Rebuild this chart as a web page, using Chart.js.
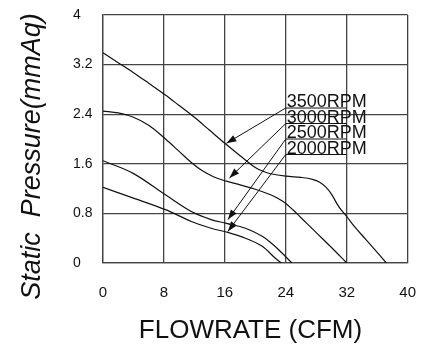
<!DOCTYPE html>
<html>
<head>
<meta charset="utf-8">
<script src="https://cdn.jsdelivr.net/npm/chart.js@4/dist/chart.umd.min.js"></script>
<style>
  html, body { margin: 0; padding: 0; background: #fff; }
  #wrap { width: 437px; height: 354px; position: relative; }
</style>
</head>
<body>
<div id="wrap"><canvas id="c" width="437" height="354"></canvas></div>
<script>
// ---- data ----
const flow3500 = [0, 2, 4, 6, 8.2, 10, 12, 14, 16.2, 18, 20, 21, 22, 24, 26, 27.5, 28.5, 29.3, 30, 31, 32, 33, 34.5, 36, 37.2];
const pres3500 = [3.39, 3.23, 3.07, 2.90, 2.71, 2.54, 2.35, 2.14, 1.91, 1.73, 1.54, 1.48, 1.44, 1.40, 1.38, 1.35, 1.30, 1.22, 1.11, 0.90, 0.75, 0.59, 0.38, 0.17, 0];

const flow3000 = [0, 2, 4, 6, 8.2, 10, 11.6, 13, 14.5, 16.2, 18, 20, 22, 23, 24, 25, 26, 28, 30, 32];
const pres3000 = [2.45, 2.42, 2.35, 2.22, 2.00, 1.80, 1.62, 1.49, 1.39, 1.32, 1.26, 1.19, 1.10, 1.04, 0.96, 0.85, 0.73, 0.49, 0.25, 0];

const flow2500 = [0, 3.9, 8.2, 11.6, 14.2, 16.2, 18.7, 20.9, 22, 23.1, 24.8];
const pres2500 = [1.65, 1.45, 1.10, 0.83, 0.70, 0.64, 0.56, 0.43, 0.33, 0.21, 0];

const flow2000 = [0, 3.9, 8.2, 11.6, 14.2, 16.2, 18.7, 20.9, 22.6, 23.4];
const pres2000 = [1.22, 1.05, 0.86, 0.67, 0.56, 0.50, 0.40, 0.27, 0.08, 0];

const seriesNames = ['3500RPM', '3000RPM', '2500RPM', '2000RPM'];
// label leader: underline height (mmAq) and arrow tip (CFM, mmAq)
const labelLineY = [2.5, 2.25, 2.0, 1.75];
const labelLineX = [24, 32];
const arrowTipX = [16.2, 16.6, 16.4, 16.4];
const arrowTipY = [1.93, 1.37, 0.70, 0.51];

const xTickValues = [0, 8, 16, 24, 32, 40];
const xTickLabels = ['0', '8', '16', '24', '32', '40'];
const yTickValues = [0, 0.8, 1.6, 2.4, 3.2, 4];
const yTickLabels = ['0', '0.8', '1.6', '2.4', '3.2', '4'];

const xTitle = 'FLOWRATE (CFM)';
const yTitle = 'Static  Pressure(mmAq)';

// ---- build chart ----
const FONT = '"Liberation Sans", Arial, sans-serif';
const toPts = (xs, ys) => xs.map((x, i) => ({ x: x, y: ys[i] }));
const allFlows = [flow3500, flow3000, flow2500, flow2000];
const allPres = [pres3500, pres3000, pres2500, pres2000];

const datasets = seriesNames.map((n, i) => ({
  label: n,
  data: toPts(allFlows[i], allPres[i]),
  borderColor: '#111',
  borderWidth: 1.2,
  pointRadius: 0,
  fill: false,
  showLine: true,
  tension: 0.35
}));

const annotPlugin = {
  id: 'annot',
  afterDatasetsDraw(chart) {
    const ctx = chart.ctx;
    const xs = chart.scales.x, ys = chart.scales.y;
    ctx.save();
    ctx.strokeStyle = '#111';
    ctx.fillStyle = '#111';
    ctx.lineWidth = 1;
    seriesNames.forEach((n, i) => {
      const lx0 = xs.getPixelForValue(labelLineX[0]);
      const lx1 = xs.getPixelForValue(labelLineX[1]);
      const ly = ys.getPixelForValue(labelLineY[i]);
      const tx = xs.getPixelForValue(arrowTipX[i]);
      const ty = ys.getPixelForValue(arrowTipY[i]);
      ctx.beginPath();
      ctx.moveTo(lx0, ly); ctx.lineTo(lx1, ly);
      ctx.stroke();
      ctx.beginPath();
      ctx.moveTo(lx0, ly); ctx.lineTo(tx, ty);
      ctx.stroke();
      const ang = Math.atan2(ty - ly, tx - lx0);
      const L = 10, W = 3.5;
      ctx.beginPath();
      ctx.moveTo(tx, ty);
      ctx.lineTo(tx - L * Math.cos(ang) + W * Math.sin(ang), ty - L * Math.sin(ang) - W * Math.cos(ang));
      ctx.lineTo(tx - L * Math.cos(ang) - W * Math.sin(ang), ty - L * Math.sin(ang) + W * Math.cos(ang));
      ctx.closePath();
      ctx.fill();
      ctx.font = '18px ' + FONT;
      ctx.textAlign = 'left';
      ctx.textBaseline = 'alphabetic';
      ctx.fillText(n, lx0 + 1, ly - 1);
    });
    ctx.fillStyle = '#111';
    ctx.font = '26px ' + FONT;
    ctx.textAlign = 'center';
    ctx.textBaseline = 'alphabetic';
    ctx.fillText(xTitle, 250.5, 338);
    ctx.save();
    ctx.translate(40, 156.5);
    ctx.rotate(-Math.PI / 2);
    ctx.font = 'italic 27px ' + FONT;
    ctx.fillText(yTitle, 0, 0);
    ctx.restore();
    ctx.restore();
  }
};

new Chart(document.getElementById('c'), {
  type: 'scatter',
  data: { datasets },
  options: {
    responsive: false,
    animation: false,
    devicePixelRatio: 1,
    layout: { padding: { left: 73, right: 24, top: 15, bottom: 0 } },
    plugins: { legend: { display: false }, tooltip: { enabled: false } },
    scales: {
      x: {
        type: 'linear', min: 0, max: 40,
        afterBuildTicks: s => { s.ticks = xTickValues.map(v => ({ value: v })); },
        afterFit: s => { s.height = 91; },
        grid: { color: '#444', lineWidth: 1.3, drawTicks: false },
        border: { color: '#444', width: 1.3 },
        ticks: {
          padding: 21, color: '#111', font: { family: FONT, size: 15 },
          callback: (v) => xTickLabels[xTickValues.indexOf(v)]
        }
      },
      y: {
        type: 'linear', min: 0, max: 4,
        afterBuildTicks: s => { s.ticks = yTickValues.map(v => ({ value: v })); },
        afterFit: s => { s.width = 30; },
        grid: { color: '#444', lineWidth: 1.3, drawTicks: false },
        border: { color: '#444', width: 1.3 },
        ticks: {
          crossAlign: 'far', padding: 4, color: '#111', font: { family: FONT, size: 14 },
          callback: (v) => yTickLabels[yTickValues.indexOf(v)]
        }
      }
    }
  },
  plugins: [annotPlugin]
});
</script>
</body>
</html>
